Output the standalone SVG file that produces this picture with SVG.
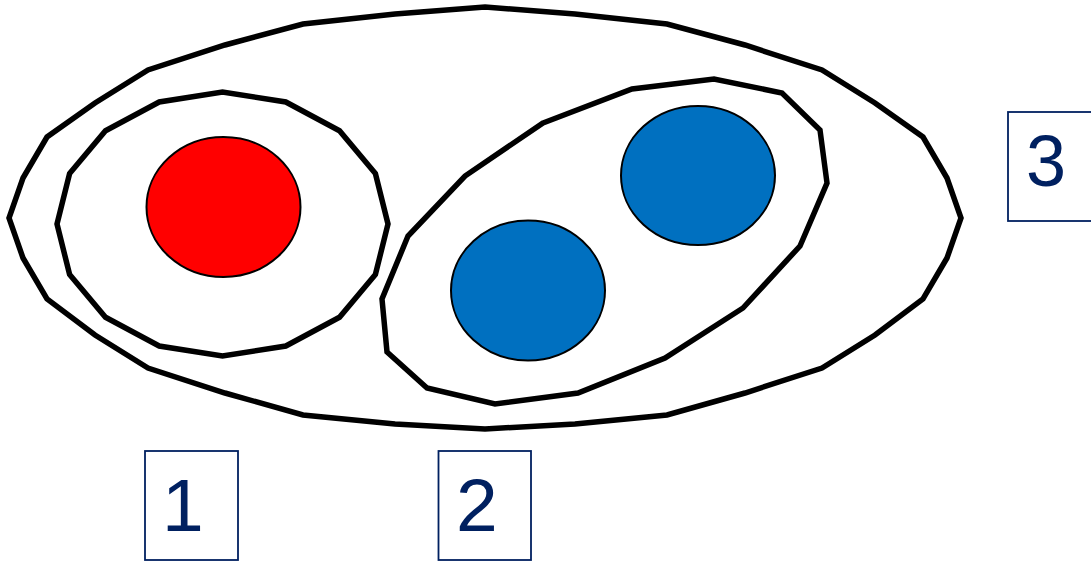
<svg xmlns="http://www.w3.org/2000/svg" width="1091" height="563" viewBox="0 0 1091 563">
  <style>
    .set { fill: none; stroke: #000000; stroke-width: 5.5; stroke-linejoin: miter; }
    .dot { stroke: #000000; stroke-width: 2; }
    .red { fill: #FF0000; }
    .blue { fill: #0070C0; }
    .lbox { fill: #FFFFFF; stroke: #002060; stroke-width: 1.8; }
    .ltxt { font-family: "Liberation Sans", Arial, sans-serif; fill: #002060; }
  </style>
  <rect x="0" y="0" width="1091" height="563" fill="#FFFFFF"/>
  <g id="set-outer">
    <polygon class="set" points="485,7 575,14 667,24 745,45 822,70 875,103 923,137 947,178 961,218 947,258 923,299 875,335 822,368 745,393 667,415 575,424 485,429 395,424 303,415 225,393 148,368 95,335 47,299 23,258 9,218 23,178 47,137 95,103 148,70 225,45 303,24 395,14"/>
  </g>
  <g id="set-left">
    <polygon class="set" points="388,224 375.4,173.5 339.5,130.7 285.8,102 222.5,92 159.2,102 105.5,130.7 69.6,173.5 57,224 69.6,274.5 105.5,317.3 159.2,346 222.5,356 285.8,346 339.5,317.3 375.4,274.5"/>
  </g>
  <g id="set-right">
    <polygon class="set" points="543,123 632,89 714,79 782,93 820,130 827,183 800,246 743,308 665,358 578,393 495,404 427,388 387,352 382,299 408,236 465,176"/>
  </g>
  <g id="dot-red">
    <ellipse class="dot red" cx="223.5" cy="207" rx="77" ry="70"/>
  </g>
  <g id="dot-blue-1">
    <ellipse class="dot blue" cx="528" cy="290.5" rx="77" ry="70"/>
  </g>
  <g id="dot-blue-2">
    <ellipse class="dot blue" cx="698" cy="175.5" rx="77" ry="69.5"/>
  </g>
  <g id="connectors"></g>
  <g id="label-1">
    <rect class="lbox" x="145" y="451" width="93" height="109"/>
    <text class="ltxt" x="162" y="531" font-size="75">1</text>
  </g>
  <g id="label-2">
    <rect class="lbox" x="438.5" y="451" width="92.5" height="109"/>
    <text class="ltxt" x="456" y="531" font-size="75">2</text>
  </g>
  <g id="label-3">
    <rect class="lbox" x="1008" y="112" width="93" height="109"/>
    <text class="ltxt" x="1026" y="186" font-size="72">3</text>
  </g>
</svg>
